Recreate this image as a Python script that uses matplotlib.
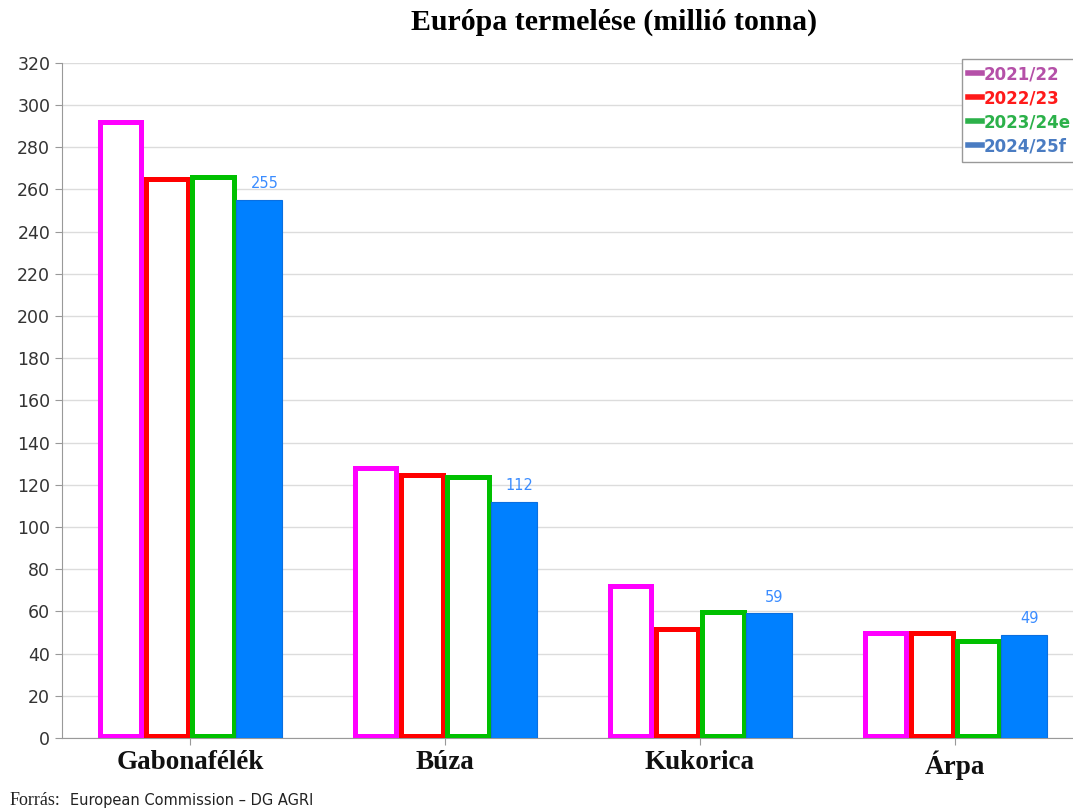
import numpy as np
import matplotlib.pyplot as plt

# data
categories = ['Gabonafélék', 'Búza', 'Kukorica', 'Árpa']
seasons = ['2021/22', '2022/23', '2023/24e', '2024/25f']
v_2122 = [293, 129, 73, 51]
v_2223 = [266, 126, 53, 51]
v_2324 = [267, 125, 61, 47]
v_2425 = [255, 112, 59, 49]

edge_cols = ['#ff00ff', '#ff0000', '#00c000', '#0a6fe0']
legend_cols = ['#b550a8', '#ff1a1a', '#2cb14a', '#4a7cc2']

fig = plt.figure(figsize=(10.73, 8.10), dpi=100)
ax = fig.add_axes([0.0578, 0.0889, 0.9422, 0.8337])

x = np.arange(len(categories))
w = 0.181
# outline drawn inside the bar footprint (half a line width in from each side)
ix, iy = 0.0095, 1.15
series = [v_2122, v_2223, v_2324, v_2425]
for k, vals in enumerate(series):
    pos = x + (k - 1.5) * w
    if k < 3:
        ax.bar(pos, np.array(vals) - 2 * iy, w - 2 * ix, bottom=iy,
               facecolor='white', edgecolor=edge_cols[k],
               linewidth=3.6, zorder=3)
    else:
        ax.bar(pos, vals, w, facecolor='#0080ff', edgecolor='#0a6fe0',
               linewidth=0.8, zorder=3)
        for p, v in zip(pos, vals):
            ax.text(p + 0.02, v + 4, str(v), ha='center', va='bottom',
                    fontsize=10.5, color='#3a8cff')

ax.set_xlim(-0.502, 3.463)
ax.set_ylim(0, 320)
ax.set_yticks(np.arange(0, 321, 20))
ax.set_xticks(x)
ax.set_xticklabels(categories, fontfamily='Liberation Serif', fontweight='bold',
                   fontsize=19.5, color='#111111')
ax.tick_params(axis='y', labelsize=12.5, colors='#333333', length=5, color='#999999')
ax.tick_params(axis='x', length=5, color='#999999', pad=4)
ax.grid(axis='y', color='#dcdcdc', linewidth=1.0, zorder=0)
for s in ['top', 'right']:
    ax.spines[s].set_visible(False)
ax.spines['left'].set_color('#999999')
ax.spines['bottom'].set_color('#999999')

# legend
handles = [plt.Line2D([0], [0], color=c, lw=4) for c in legend_cols]
leg = ax.legend(handles, seasons, loc='upper right', bbox_to_anchor=(1.004, 1.006),
                borderaxespad=0, handlelength=0.8, handletextpad=0.1,
                borderpad=0.4, labelspacing=0.36, fancybox=False, framealpha=1,
                edgecolor='#999999', prop={'weight': 'bold', 'size': 12})
for t, c in zip(leg.get_texts(), legend_cols):
    t.set_color(c)

fig.text(0.572, 0.972, 'Európa termelése (millió tonna)', ha='center', va='center',
         fontfamily='Liberation Serif', fontweight='bold', fontsize=21.5)
fig.text(0.009, 0.012, 'Forrás:', ha='left', va='center',
         fontfamily='Liberation Serif', fontsize=13, color='#222222')
fig.text(0.065, 0.012, 'European Commission – DG AGRI', ha='left', va='center',
         fontsize=10.5, color='#222222')

fig.savefig('out.png', dpi=100)
